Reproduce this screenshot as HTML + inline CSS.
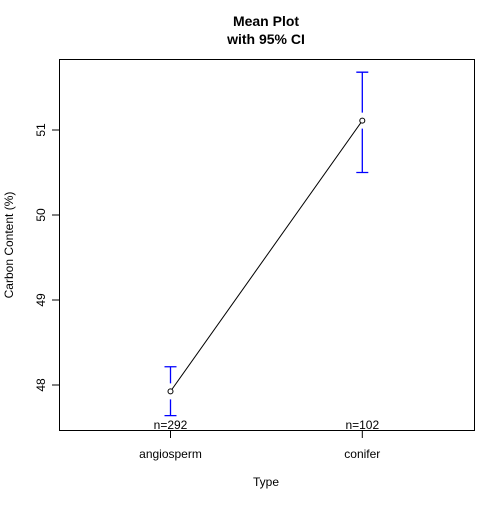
<!DOCTYPE html>
<html><head><meta charset="utf-8"><style>body{margin:0;background:#fff}svg{font-family:"Liberation Sans",Arial,sans-serif}</style></head>
<body>
<svg width="504" height="504" id="c">
<rect x="0" y="0" width="504" height="504" fill="#fff"/>
<text x="266" y="26" text-anchor="middle" font-size="14" font-weight="bold">Mean Plot</text>
<text x="266" y="44" text-anchor="middle" font-size="14" font-weight="bold">with 95% CI</text>
<rect x="59.5" y="59.5" width="415" height="371" fill="none" stroke="#000"/>
<text x="266" y="486" text-anchor="middle" font-size="12">Type</text>
<text transform="translate(13,245) rotate(-90)" text-anchor="middle" font-size="12">Carbon Content (%)</text>
<g id="g"></g>
</svg>
<script>
const categories=["angiosperm","conifer"];
const means=[47.925,51.11];
const upper=[48.215,51.68];
const lower=[47.64,50.50];
const counts=[292,102];
const yTicks=[48,49,50,51];
const NS="http://www.w3.org/2000/svg";
const g=document.getElementById('g');
const X=i=>170.5+i*191.8;
const Y=v=>385-(v-48)*85;
function mk(t,a){const e=document.createElementNS(NS,t);for(const k in a)e.setAttribute(k,a[k]);g.appendChild(e);return e;}
yTicks.forEach(v=>{
 const l=mk('line',{x1:52,x2:59.5,y1:Y(v),y2:Y(v),stroke:'#000'});
 
 
 const t=mk('text',{transform:`translate(45,${Y(v)}) rotate(-90)`,'text-anchor':'middle','font-size':12});
 t.textContent=v;
 
 
});
categories.forEach((c,i)=>{
 const l=mk('line',{x1:X(i),x2:X(i),y1:430.5,y2:438,stroke:'#000'});
 
 
 const t=mk('text',{x:X(i),y:458,'text-anchor':'middle','font-size':12});
 t.textContent=c;
 
 
 const n=mk('text',{x:X(i),y:429,'text-anchor':'middle','font-size':12});
 n.textContent='n='+counts[i];
 
 
 const yu=Y(upper[i]),yl=Y(lower[i]),ym=Y(means[i]);
 const e=mk('path',{d:`M${X(i)},${yu}V${ym-8}M${X(i)},${ym+8}V${yl}M${X(i)-6},${yu}H${X(i)+6}M${X(i)-6},${yl}H${X(i)+6}`,stroke:'#0000ff',fill:'none','stroke-width':1.3});
 
 
});
const ln=mk('polyline',{points:means.map((m,i)=>X(i)+','+Y(m)).join(' '),fill:'none',stroke:'#000'});


means.forEach((m,i)=>{
 const c=mk('circle',{cx:X(i),cy:Y(m),r:2.5,fill:'#fff',stroke:'#000'});
 
 
});
</script>
</body></html>
